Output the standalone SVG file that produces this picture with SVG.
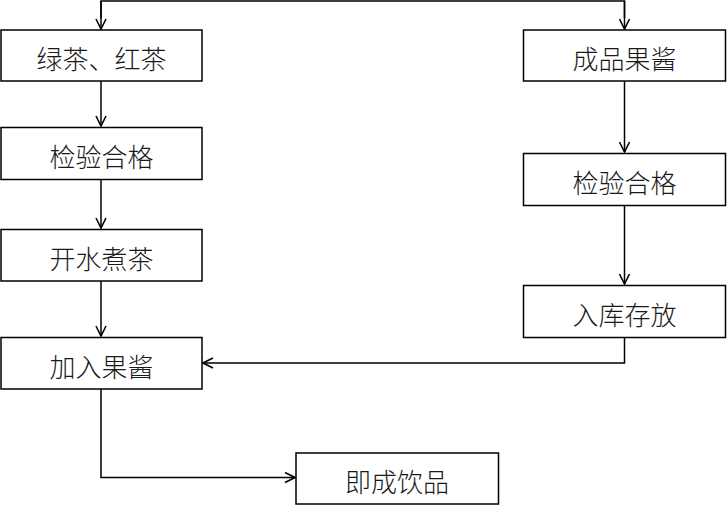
<svg xmlns="http://www.w3.org/2000/svg" width="727" height="506" viewBox="0 0 727 506">
  <defs>
    <marker id="arrow" viewBox="0 0 12 12" refX="11" refY="6" markerWidth="12" markerHeight="12" markerUnits="userSpaceOnUse" orient="auto">
      <path d="M1,1 L11,6 L1,11" fill="none" stroke="#000" stroke-width="1.6"/>
    </marker>
  </defs>
  <style>
    .box { fill: #fff; stroke: #000; stroke-width: 1.5; }
    .label { font-family: "Noto Sans CJK SC", "Noto Sans", sans-serif; font-size: 26px; font-weight: 300; fill: #1a1a1a; text-anchor: middle; dominant-baseline: central; }
    .edge { fill: none; stroke: #000; stroke-width: 1.5; }
  </style>
  <rect width="727" height="506" fill="#fff"/>

  <g id="connectors">
    <path class="edge" d="M101,18 V1 H624.5 V18" />
    <path class="edge" d="M101,1 V29" marker-end="url(#arrow)"/>
    <path class="edge" d="M624.5,1 V29" marker-end="url(#arrow)"/>
    <path class="edge" d="M101,81 V126" marker-end="url(#arrow)"/>
    <path class="edge" d="M101,179 V228" marker-end="url(#arrow)"/>
    <path class="edge" d="M101,281 V336" marker-end="url(#arrow)"/>
    <path class="edge" d="M624.5,81 V152" marker-end="url(#arrow)"/>
    <path class="edge" d="M624.5,205 V284" marker-end="url(#arrow)"/>
    <path class="edge" d="M624.5,337 V363 H203" marker-end="url(#arrow)"/>
    <path class="edge" d="M101,389 V477.5 H295" marker-end="url(#arrow)"/>
  </g>

  <g id="green-black-tea">
    <rect class="box" x="1" y="30" width="201" height="51"/>
    <text class="label" x="101.5" y="57.5">绿茶、红茶</text>
  </g>
  <g id="tea-inspection">
    <rect class="box" x="1" y="127.5" width="201" height="52"/>
    <text class="label" x="101.5" y="155.5">检验合格</text>
  </g>
  <g id="boil-tea">
    <rect class="box" x="1" y="229.5" width="201" height="51.5"/>
    <text class="label" x="101.5" y="257.5">开水煮茶</text>
  </g>
  <g id="add-jam">
    <rect class="box" x="1" y="337.5" width="201" height="51.5"/>
    <text class="label" x="101.5" y="365.5">加入果酱</text>
  </g>
  <g id="ready-drink">
    <rect class="box" x="296" y="453" width="202.5" height="51"/>
    <text class="label" x="397" y="480.5">即成饮品</text>
  </g>
  <g id="finished-jam">
    <rect class="box" x="523.5" y="30" width="202" height="51"/>
    <text class="label" x="624.5" y="57.5">成品果酱</text>
  </g>
  <g id="jam-inspection">
    <rect class="box" x="523.5" y="153.5" width="202" height="52"/>
    <text class="label" x="624.5" y="181.5">检验合格</text>
  </g>
  <g id="storage">
    <rect class="box" x="523.5" y="285.5" width="202" height="52"/>
    <text class="label" x="624.5" y="313.5">入库存放</text>
  </g>
</svg>
